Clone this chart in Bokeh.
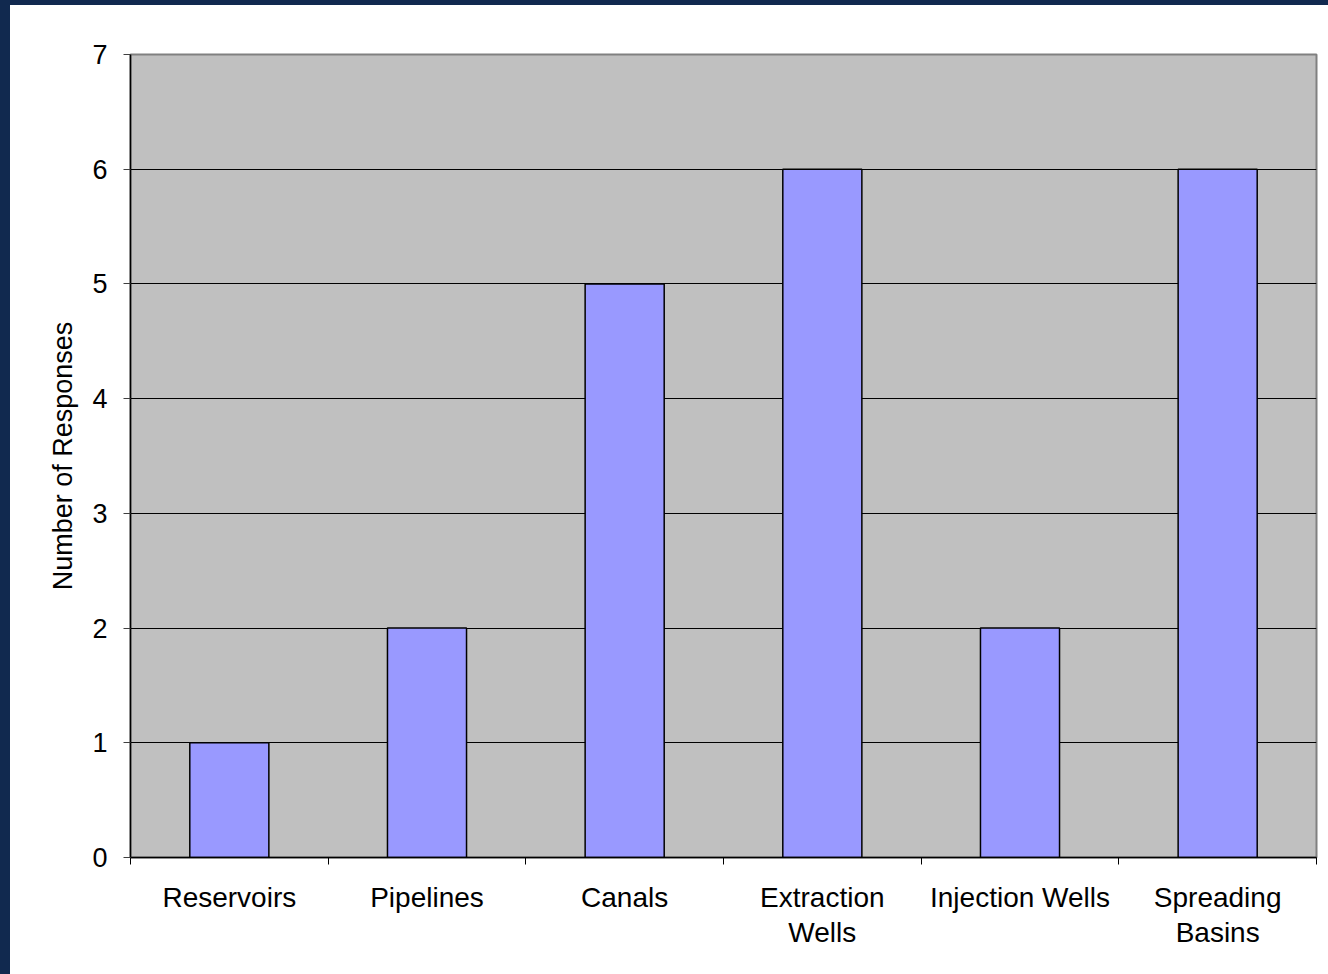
from bokeh.plotting import figure
from bokeh.models import FixedTicker, InlineStyleSheet
from bokeh.embed import file_html
from bokeh.resources import INLINE

categories = ["Reservoirs", "Pipelines", "Canals", "Extraction Wells", "Injection Wells", "Spreading Basins"]
tick_labels = ["Reservoirs", "Pipelines", "Canals", "Extraction\nWells", "Injection Wells", "Spreading\nBasins"]
responses = [1, 2, 5, 6, 2, 6]
y_ticks = [0, 1, 2, 3, 4, 5, 6, 7]

centers = [i + 0.5 for i in range(len(categories))]
bounds = list(range(len(categories) + 1))

FONT = "Liberation Sans"

p = figure(width=1328, height=974, x_range=(0, len(categories)), y_range=(0, 7),
           output_backend="svg", toolbar_location=None,
           min_border_left=130, min_border_right=12, min_border_top=54, min_border_bottom=117)
p.background_fill_color = "#C0C0C0"
p.border_fill_color = "white"
p.border_fill_alpha = 0.0
p.outline_line_color = "#808080"
p.outline_line_width = 2

p.vbar(x=centers, top=responses, width=0.4, fill_color="#9999FF",
       line_color="black", line_width=1.5)

p.xgrid.visible = False
p.ygrid.grid_line_color = "black"
p.ygrid.grid_line_alpha = 1.0
p.ygrid.grid_line_width = 1

xa = p.xaxis[0]
xa.ticker = FixedTicker(ticks=centers, minor_ticks=bounds)
xa.major_label_overrides = {c: l for c, l in zip(centers, tick_labels)}
xa.major_tick_out = 0
xa.major_tick_in = 0
xa.minor_tick_out = 7
xa.minor_tick_in = 0
xa.minor_tick_line_color = "black"
xa.axis_line_color = "black"
xa.axis_line_width = 1.5
xa.major_label_text_font = FONT
xa.major_label_text_font_size = "28px"
xa.major_label_text_color = "black"
xa.major_label_text_line_height = 1.15
xa.major_label_standoff = 17

ya = p.yaxis[0]
ya.ticker = FixedTicker(ticks=y_ticks, minor_ticks=[])
ya.major_tick_out = 7
ya.major_tick_in = 0
ya.major_tick_line_color = "#404040"
ya.axis_line_color = "black"
ya.axis_line_width = 1.5
ya.major_label_text_font = FONT
ya.major_label_text_font_size = "27px"
ya.major_label_text_color = "black"
ya.major_label_standoff = 16
ya.axis_label = "Number of Responses"
ya.axis_label_text_font = FONT
ya.axis_label_text_font_size = "27px"
ya.axis_label_text_font_style = "normal"
ya.axis_label_text_color = "black"
ya.axis_label_standoff = 11

p.stylesheets = [InlineStyleSheet(css=":host { background: #ffffff; box-shadow: inset 10px 5px 0 0 #11294f; }")]

open("out.html", "w").write(file_html(p, INLINE))
